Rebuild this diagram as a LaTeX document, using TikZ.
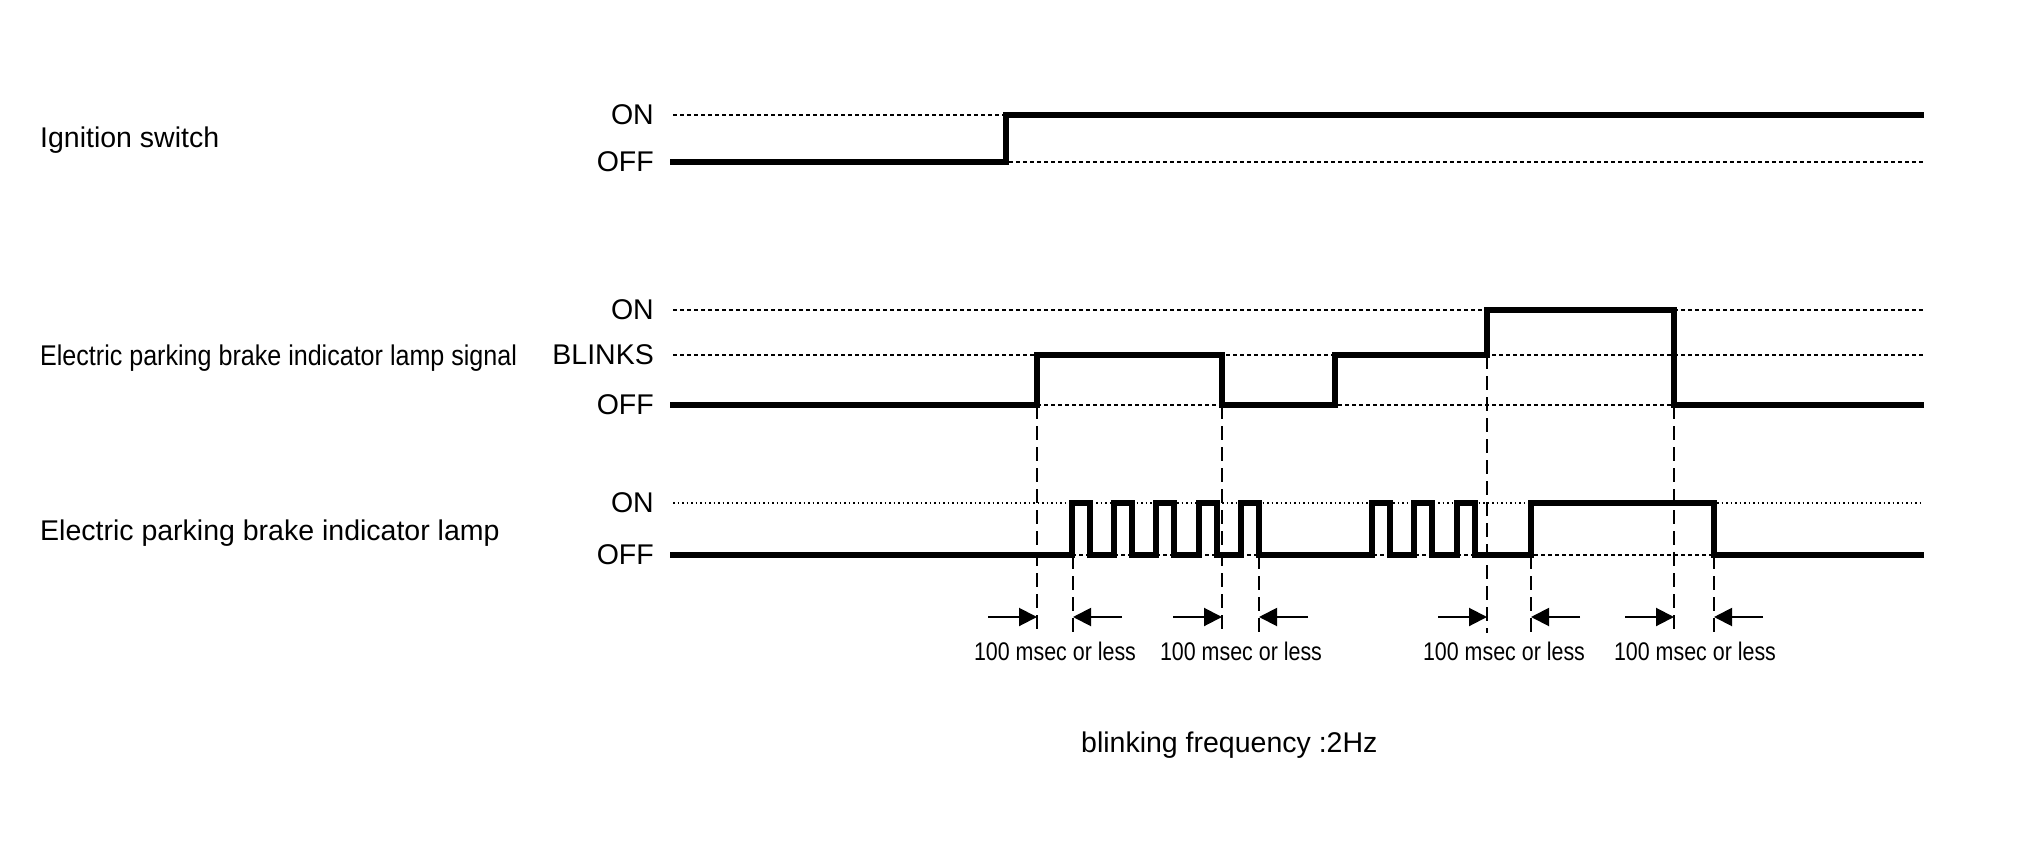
\documentclass[tikz,border=0pt]{standalone}
\usepackage{fontspec}
\setmainfont{Liberation Sans}
\newfontfamily\narrowA[FakeStretch=0.88]{Liberation Sans}
\newfontfamily\narrowB[FakeStretch=0.84]{Liberation Sans}
\usetikzlibrary{arrows.meta}
\begin{document}
\begin{tikzpicture}[x=1pt,y=-1pt,
  wave/.style={line width=5.5pt, line join=miter, line cap=butt},
  guide/.style={line width=1.4pt, dash pattern=on 4pt off 3pt},
  guidedot/.style={line width=1.4pt, dash pattern=on 1.5pt off 3pt},
  vdash/.style={line width=2pt, dash pattern=on 14pt off 7pt},
  dim/.style={line width=2pt, -{Triangle[length=18pt,width=18pt]}},
  lbl/.style={inner sep=0pt, font=\fontsize{28.5}{30}\selectfont},
  lvl/.style={inner sep=0pt, anchor=east, font=\fontsize{28.5}{30}\selectfont},
  dimtxt/.style={inner sep=0pt, anchor=base, font=\narrowB\fontsize{25.5}{27}\selectfont}]
\useasboundingbox (0,0) rectangle (2020,851);

% ---------- labels ----------
\node[lbl, anchor=base west] (ign) at (40,147) {Ignition switch};
\node[lbl, anchor=base west, font=\narrowA\fontsize{28.5}{30}\selectfont] (sig) at (40,365) {Electric parking brake indicator lamp signal};
\node[lbl, anchor=base west] (lamp) at (40,540) {Electric parking brake indicator lamp};

\node[lvl] (ignon) at (654,115) {ON};
\node[lvl] (ignoff) at (654,162) {OFF};
\node[lvl] (sigon) at (654,310) {ON};
\node[lvl] (sigbl) at (654,355) {BLINKS};
\node[lvl] (sigoff) at (654,405) {OFF};
\node[lvl] (lampon) at (654,503) {ON};
\node[lvl] (lampoff) at (654,555) {OFF};

% ---------- guide lines ----------
\draw[guide] (673,115) -- (1924,115);
\draw[guide] (673,162) -- (1924,162);
\draw[guide] (673,310) -- (1924,310);
\draw[guide] (673,355) -- (1924,355);
\draw[guide] (673,405) -- (1924,405);
\draw[guidedot] (673,503) -- (1924,503);
\draw[guide] (673,555) -- (1924,555);

% ---------- vertical dashed markers ----------
\draw[vdash] (1037,405) -- (1037,633);
\draw[vdash] (1222,405) -- (1222,633);
\draw[vdash] (1487,355) -- (1487,633);
\draw[vdash] (1674,405) -- (1674,633);
\draw[vdash] (1073,555) -- (1073,633);
\draw[vdash] (1259,555) -- (1259,633);
\draw[vdash] (1531,555) -- (1531,633);
\draw[vdash] (1714,555) -- (1714,633);

% ---------- waveforms ----------
\draw[wave] (670,162) -- (1006,162) -- (1006,115) -- (1924,115);

\draw[wave] (670,405) -- (1037,405) -- (1037,355) -- (1222,355) -- (1222,405)
  -- (1335,405) -- (1335,355) -- (1487,355) -- (1487,310) -- (1674,310)
  -- (1674,405) -- (1924,405);

\draw[wave] (670,555)
  -- (1072,555) -- (1072,503) -- (1090,503) -- (1090,555)
  -- (1114,555) -- (1114,503) -- (1132,503) -- (1132,555)
  -- (1156,555) -- (1156,503) -- (1174,503) -- (1174,555)
  -- (1199,555) -- (1199,503) -- (1217,503) -- (1217,555)
  -- (1241,555) -- (1241,503) -- (1259,503) -- (1259,555)
  -- (1372,555) -- (1372,503) -- (1390,503) -- (1390,555)
  -- (1414,555) -- (1414,503) -- (1432,503) -- (1432,555)
  -- (1457,555) -- (1457,503) -- (1475,503) -- (1475,555)
  -- (1531,555) -- (1531,503) -- (1714,503) -- (1714,555)
  -- (1924,555);

% ---------- dimension arrows ----------
\coordinate (a1s) at (988,617);  \coordinate (a1e) at (1037,617);
\coordinate (b1s) at (1122,617); \coordinate (b1e) at (1073,617);
\coordinate (a2s) at (1173,617); \coordinate (a2e) at (1222,617);
\coordinate (b2s) at (1308,617); \coordinate (b2e) at (1259,617);
\coordinate (a3s) at (1438,617); \coordinate (a3e) at (1487,617);
\coordinate (b3s) at (1580,617); \coordinate (b3e) at (1531,617);
\coordinate (a4s) at (1625,617); \coordinate (a4e) at (1674,617);
\coordinate (b4s) at (1763,617); \coordinate (b4e) at (1714,617);
\foreach \k in {1,2,3,4} {
  \draw[dim] (a\k s) -- (a\k e);
  \draw[dim] (b\k s) -- (b\k e);
}

\node[dimtxt] (t1) at (1055,660) {100 msec or less};
\node[dimtxt] (t2) at (1241,660) {100 msec or less};
\node[dimtxt] (t3) at (1504,660) {100 msec or less};
\node[dimtxt] (t4) at (1695,660) {100 msec or less};

\node[inner sep=0pt, anchor=base west, font=\fontsize{28.5}{30}\selectfont] (freq) at (1081,752) {blinking frequency :2Hz};
\end{tikzpicture}
\end{document}
